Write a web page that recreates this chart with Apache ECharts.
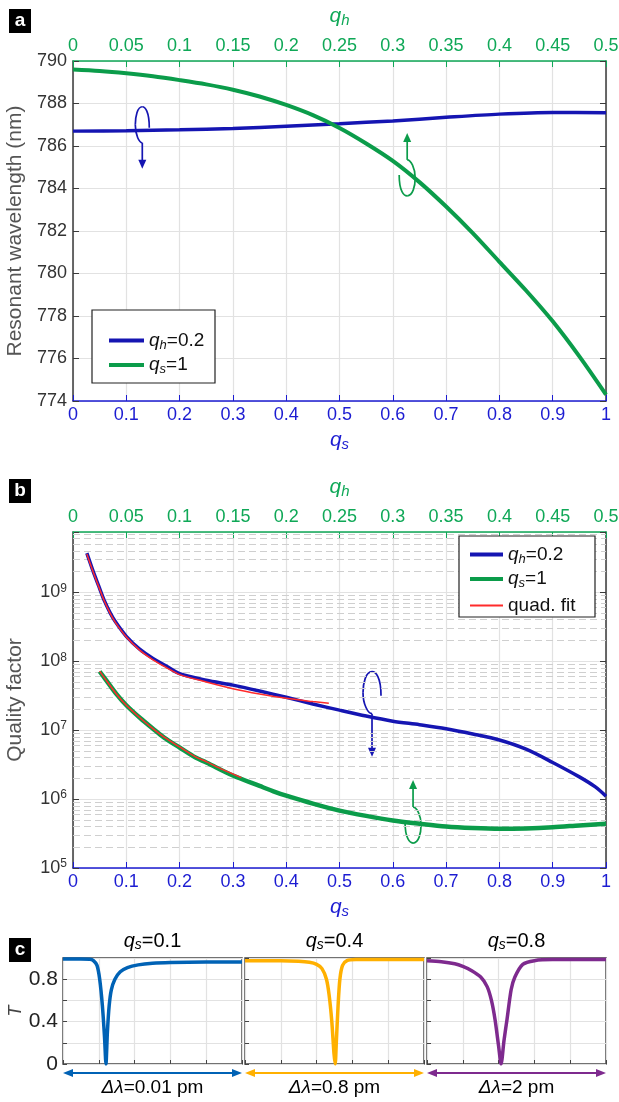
<!DOCTYPE html>
<html>
<head>
<meta charset="utf-8">
<script src="https://cdn.jsdelivr.net/npm/echarts@6.0.0/dist/echarts.min.js"></script>
<style>
  html, body { margin: 0; padding: 0; background: #fff; }
  #chart { width: 619px; height: 1102px; }
</style>
</head>
<body>
<div id="chart"></div>
<script>
// ---- panel a : resonant wavelength ----
const qsA = [0, 0.1, 0.2, 0.3, 0.4, 0.5, 0.6, 0.7, 0.8, 0.9, 1.0];
const lamBlueA = [786.70, 786.72, 786.76, 786.82, 786.93, 787.05, 787.18, 787.35, 787.50, 787.58, 787.56];
const qhA = [0, 0.025, 0.05, 0.075, 0.1, 0.125, 0.15, 0.175, 0.2, 0.225, 0.25, 0.275, 0.3, 0.325, 0.35, 0.375, 0.4, 0.425, 0.45, 0.475, 0.5];
const lamGreenA = [789.60, 789.53, 789.42, 789.28, 789.10, 788.90, 788.65, 788.33, 787.93, 787.45, 786.85, 786.12, 785.30, 784.30, 783.15, 781.90, 780.55, 779.20, 777.75, 776.10, 774.30];

// ---- panel b : quality factor ----
const qsB = [0.026, 0.037, 0.048, 0.059, 0.07, 0.08, 0.1, 0.125, 0.15, 0.175, 0.2, 0.25, 0.3, 0.35, 0.4, 0.45, 0.5, 0.55, 0.6, 0.65, 0.7, 0.75, 0.8, 0.85, 0.9, 0.95, 0.98, 1.0];
const qBlueB = [3.7e9, 2.1e9, 1.25e9, 7.5e8, 5.0e8, 3.7e8, 2.3e8, 1.5e8, 1.1e8, 8.5e7, 6.6e7, 5.3e7, 4.5e7, 3.7e7, 3.0e7, 2.4e7, 1.95e7, 1.6e7, 1.35e7, 1.2e7, 1.05e7, 8.8e6, 7.2e6, 5.3e6, 3.4e6, 2.1e6, 1.5e6, 1.1e6];
const qsFit = [0.026, 0.037, 0.048, 0.059, 0.07, 0.08, 0.1, 0.125, 0.15, 0.175, 0.2, 0.25, 0.3, 0.35, 0.4, 0.45, 0.48];
const qFitBlue = [3.6e9, 2.05e9, 1.22e9, 7.4e8, 4.9e8, 3.6e8, 2.25e8, 1.45e8, 1.05e8, 8.1e7, 6.4e7, 5.0e7, 4.0e7, 3.35e7, 2.9e7, 2.6e7, 2.45e7];
const qhB = [0.025, 0.03, 0.041, 0.05, 0.063, 0.075, 0.0855, 0.1, 0.115, 0.125, 0.15, 0.175, 0.19, 0.2, 0.225, 0.25, 0.275, 0.3, 0.325, 0.35, 0.375, 0.4, 0.425, 0.45, 0.475, 0.5];
const qGreenB = [7.1e7, 5.6e7, 3.3e7, 2.3e7, 1.5e7, 1.05e7, 7.8e6, 5.6e6, 4.0e6, 3.4e6, 2.2e6, 1.55e6, 1.26e6, 1.12e6, 8.6e5, 6.8e5, 5.7e5, 4.9e5, 4.4e5, 4.0e5, 3.8e5, 3.7e5, 3.75e5, 3.9e5, 4.15e5, 4.4e5];
const qhFit = [0.025, 0.03, 0.041, 0.05, 0.063, 0.075, 0.0855, 0.1, 0.115, 0.125, 0.14, 0.158];
const qFitGreen = [7.2e7, 5.6e7, 3.3e7, 2.3e7, 1.5e7, 1.05e7, 7.9e6, 5.7e6, 4.1e6, 3.5e6, 2.7e6, 2.05e6];

// ---- panel c : transmission spectra (arb. detuning 0..1) ----
const xC1 = [0, 0.1, 0.15, 0.17, 0.19, 0.205, 0.22, 0.232, 0.24, 0.248, 0.258, 0.27, 0.29, 0.32, 0.36, 0.42, 0.5, 0.6, 0.8, 1];
const tC1 = [0.99, 0.99, 0.988, 0.975, 0.93, 0.8, 0.55, 0.25, 0.0, 0.3, 0.55, 0.7, 0.8, 0.87, 0.91, 0.935, 0.95, 0.957, 0.962, 0.963];
const xC2 = [0, 0.2, 0.3, 0.36, 0.4, 0.43, 0.455, 0.47, 0.485, 0.497, 0.504, 0.51, 0.52, 0.53, 0.545, 0.57, 0.62, 0.8, 1];
const tC2 = [0.975, 0.975, 0.97, 0.96, 0.94, 0.9, 0.8, 0.65, 0.4, 0.1, 0.0, 0.2, 0.55, 0.8, 0.93, 0.975, 0.985, 0.987, 0.987];
const xC3 = [0, 0.08, 0.155, 0.2, 0.25, 0.3, 0.336, 0.36, 0.38, 0.4, 0.414, 0.43, 0.447, 0.47, 0.491, 0.535, 0.6, 0.7, 1];
const tC3 = [0.975, 0.965, 0.945, 0.92, 0.88, 0.82, 0.73, 0.6, 0.42, 0.17, 0.0, 0.22, 0.42, 0.7, 0.82, 0.94, 0.975, 0.985, 0.985];
const cTitles = ['0.1', '0.4', '0.8'];
const cWidths = ['0.01 pm', '0.8 pm', '2 pm'];

const FONT = '"Liberation Sans", Arial, Helvetica, sans-serif';
const BLUE = '#1515b2', GREEN = '#0b9c4a', RED = '#ff2b2b';
const AX_BLUE = '#1c1cd2', AX_GREEN = '#0fa857', AX_GRAY = '#3a3a3a';
const GRID = '#e2e2e2', MINOR = '#cfcfcf';
const C_COLORS = ['#0062b5', '#ffb000', '#7e2a8e'];

function pairs(xs, ys) { return xs.map((x, i) => [x, ys[i]]); }

function qRich(color, size) {
  return {
    q: { fontStyle: 'italic', fontSize: size, color: color, fontFamily: FONT },
    s: { fontStyle: 'italic', fontSize: Math.round(size * 0.7), color: color, fontFamily: FONT,
         verticalAlign: 'bottom', padding: [Math.round(size * 0.45), 0, 0, 0] },
    n: { fontSize: size, color: color, fontFamily: FONT }
  };
}

const legendText = {
  a_blue: '{q|q}{s|h}{n|=0.2}', a_green: '{q|q}{s|s}{n|=1}',
  b_blue: '{q|q}{s|h}{n|=0.2}', b_green: '{q|q}{s|s}{n|=1}',
  b_fit: '{n|quad. fit}'
};

function bottomAxis(grid) {
  return {
    type: 'value', gridIndex: grid, position: 'bottom', min: 0, max: 1, interval: 0.1,
    axisLine: { show: true, onZero: false, lineStyle: { color: AX_BLUE, width: 1.5 } },
    axisTick: { show: true, inside: true, length: 6, lineStyle: { color: AX_BLUE } },
    axisLabel: { color: AX_BLUE, fontSize: 18, fontFamily: FONT, margin: 5 },
    splitLine: { show: true, lineStyle: { color: GRID, width: 1.2 } },
    name: '{q|q}{s|s}', nameLocation: 'middle', nameGap: 27,
    nameTextStyle: { rich: qRich(AX_BLUE, 21) }
  };
}
function topAxis(grid) {
  return {
    type: 'value', gridIndex: grid, position: 'top', min: 0, max: 0.5, interval: 0.05,
    axisLine: { show: true, onZero: false, lineStyle: { color: AX_GREEN, width: 1.5 } },
    axisTick: { show: true, inside: true, length: 6, lineStyle: { color: AX_GREEN } },
    axisLabel: { color: AX_GREEN, fontSize: 18, fontFamily: FONT, margin: 6 },
    splitLine: { show: false },
    name: '{q|q}{s|h}', nameLocation: 'middle', nameGap: 33,
    nameTextStyle: { rich: qRich(AX_GREEN, 21) }
  };
}
function sideAxis(grid, pos, extra) {
  return Object.assign({
    gridIndex: grid, position: pos,
    axisLine: { show: true, onZero: false, lineStyle: { color: AX_GRAY, width: 1.5 } },
    axisTick: { show: true, inside: true, length: 6, lineStyle: { color: AX_GRAY } },
    axisLabel: { show: pos === 'left', color: '#333', fontSize: 18, fontFamily: FONT, margin: 6 },
    splitLine: { show: pos === 'left', lineStyle: { color: GRID, width: 1.2 } }
  }, extra);
}
function logLabel(v) {
  const e = Math.log10(v);
  if (Math.abs(e - Math.round(e)) > 1e-6) return '';
  return '{b|10}{e|' + Math.round(e) + '}';
}

// dashed minor grid for the log axis
const minorVals = [];
for (let d = 5; d <= 9; d++) for (let m = 2; m <= 9; m++) if (m * Math.pow(10, d) < 7.5e9) minorVals.push(m * Math.pow(10, d));

const cGrids = [63, 245, 427];
const xAxes = [bottomAxis(0), topAxis(0), bottomAxis(1), topAxis(1)];
const yAxes = [
  sideAxis(0, 'left', { type: 'value', min: 774, max: 790, interval: 2,
    name: 'Resonant wavelength (nm)', nameLocation: 'middle', nameGap: 47,
    nameTextStyle: { fontSize: 21, color: '#555', fontFamily: FONT } }),
  sideAxis(0, 'right', { type: 'value', min: 774, max: 790, interval: 2 }),
  sideAxis(1, 'left', { type: 'log', logBase: 10, min: 1e5, max: 7.5e9,
    name: 'Quality factor', nameLocation: 'middle', nameGap: 47,
    nameTextStyle: { fontSize: 21, color: '#555', fontFamily: FONT },
    axisLabel: { show: true, formatter: logLabel, margin: 6,
      rich: { b: { fontSize: 18, color: '#333', fontFamily: FONT, lineHeight: 20 },
              e: { fontSize: 12, color: '#333', fontFamily: FONT, verticalAlign: 'top', lineHeight: 12, padding: [0, 0, 10, 0] } } } }),
  sideAxis(1, 'right', { type: 'log', logBase: 10, min: 1e5, max: 7.5e9 })
];
cGrids.forEach((l, i) => {
  xAxes.push({
    type: 'value', gridIndex: 2 + i, min: 0, max: 1, interval: 0.2,
    axisLine: { show: false }, axisLabel: { show: false },
    axisTick: { show: true, inside: true, length: 4, lineStyle: { color: '#444' } },
    splitLine: { show: true, lineStyle: { color: GRID, width: 1.2 } }
  });
  yAxes.push({
    type: 'value', gridIndex: 2 + i, min: 0, max: 1, interval: 0.2,
    axisLine: { show: false },
    axisTick: { show: true, inside: true, length: 4, lineStyle: { color: '#444' } },
    axisLabel: { show: i === 0, color: '#222', fontSize: 21, fontFamily: FONT, margin: 5,
      formatter: v => [0, 0.4, 0.8].some(t => Math.abs(v - t) < 1e-6) ? String(Math.round(v * 10) / 10) : '' },
    splitLine: { show: true, lineStyle: { color: GRID, width: 1.2 } },
    name: i === 0 ? '{q|T}' : '', nameLocation: 'middle', nameGap: 27,
    nameTextStyle: { rich: { q: { fontStyle: 'italic', fontSize: 18, color: '#444', fontFamily: FONT } } }
  });
});

function line(name, xi, yi, data, color, width, z) {
  return { name: name, type: 'line', xAxisIndex: xi, yAxisIndex: yi, data: data,
    showSymbol: false, smooth: 0.3, z: z || 2, color: color,
    itemStyle: { color: color }, lineStyle: { color: color, width: width } };
}

const series = [
  line('a_blue', 0, 0, pairs(qsA, lamBlueA), BLUE, 3.5),
  line('a_green', 1, 0, pairs(qhA, lamGreenA), GREEN, 4),
  line('b_blue', 2, 2, pairs(qsB, qBlueB), BLUE, 3.5),
  line('b_green', 3, 2, pairs(qhB, qGreenB), GREEN, 4.5),
  line('b_fit', 2, 2, pairs(qsFit, qFitBlue), RED, 1.5, 3),
  line('b_fit', 3, 2, pairs(qhFit, qFitGreen), RED, 1.5, 3),
  { name: 'minor', type: 'line', xAxisIndex: 2, yAxisIndex: 2, data: [], z: 1, silent: true,
    markLine: { silent: true, z: 1, symbol: ['none', 'none'], label: { show: false },
      lineStyle: { color: MINOR, type: [7, 4], width: 1 },
      data: minorVals.map(v => ({ yAxis: v })) } }
];
[[xC1, tC1], [xC2, tC2], [xC3, tC3]].forEach((d, i) => {
  const s = line('c' + i, 4 + i, 4 + i, pairs(d[0], d[1]), C_COLORS[i], 3.5);
  s.smooth = 0.25;
  series.push(s);
});

const chart = echarts.init(document.getElementById('chart'));
chart.setOption({
  backgroundColor: '#fff',
  animation: false,
  textStyle: { fontFamily: FONT },
  grid: [
    { left: 73, top: 61, width: 533, height: 340, outerBoundsMode: 'none' },
    { left: 73, top: 532, width: 533, height: 336, outerBoundsMode: 'none' }
  ].concat(cGrids.map(l => ({ left: l, top: 958, width: 179, height: 106, show: true,
    borderColor: '#444', borderWidth: 1.5, outerBoundsMode: 'none' }))),
  legend: [
    { orient: 'vertical', left: 104, top: 326, itemWidth: 35, itemHeight: 4, itemGap: 4, z: 6,
      icon: 'rect', data: ['a_blue', 'a_green'], selectedMode: false,
      formatter: n => legendText[n], textStyle: { rich: qRich('#111', 19) } },
    { orient: 'vertical', left: 465, top: 540, itemWidth: 33, itemHeight: 4, itemGap: 4, z: 6,
      icon: 'rect', data: ['b_blue', 'b_green'], selectedMode: false,
      formatter: n => legendText[n], textStyle: { rich: qRich('#111', 19) } },
    { orient: 'vertical', left: 465, top: 591, itemWidth: 33, itemHeight: 2, z: 6,
      icon: 'rect', data: ['b_fit'], selectedMode: false,
      formatter: n => legendText[n], textStyle: { rich: qRich('#111', 19) } }
  ],
  xAxis: xAxes,
  yAxis: yAxes,
  series: series
});

// annotations: curly arrows, panel badges, panel c titles and span arrows
function curl(pt, rx, ry, L, up, color) {
  const seg = (a, b, c1, c2) => ({ type: 'bezierCurve',
    shape: { x1: a[0], y1: a[1], x2: b[0], y2: b[1], cpx1: c1[0], cpy1: c1[1], cpx2: c2[0], cpy2: c2[1] },
    style: { stroke: color, fill: null, lineWidth: 1.7 } });
  return { type: 'group', x: pt[0], y: pt[1], rotation: up ? Math.PI : 0, z: 20, children: [
    seg([rx, 3], [0, -ry], [rx, -ry * 0.75], [rx * 0.4, -ry]),
    seg([0, -ry], [-rx, 0], [-rx * 0.7, -ry], [-rx, -ry * 0.45]),
    seg([-rx, 0], [0, ry], [-rx, ry * 0.55], [-rx * 0.45, ry]),
    { type: 'line', shape: { x1: 0, y1: ry, x2: 0, y2: ry + L - 6 }, style: { stroke: color, lineWidth: 1.7 } },
    { type: 'polygon', shape: { points: [[-4, ry + L - 9], [4, ry + L - 9], [0, ry + L]] }, style: { fill: color } }
  ] };
}
function badge(letter, y) {
  return { type: 'group', x: 9, y: y, z: 30, children: [
    { type: 'rect', shape: { x: 0, y: 0, width: 22, height: 24 }, style: { fill: '#000' } },
    { type: 'text', x: 11, y: 12, style: { text: letter, fill: '#fff', font: 'bold 19px ' + FONT,
      align: 'center', verticalAlign: 'middle' } }
  ] };
}
const px = (idx, p) => chart.convertToPixel({ xAxisIndex: idx[0], yAxisIndex: idx[1] }, p);

const graphics = [
  { type: 'rect', z: 3, shape: { x: 92, y: 310, width: 123, height: 73 }, style: { fill: '#fff', stroke: '#222', lineWidth: 1.2 } },
  { type: 'rect', z: 3, shape: { x: 459, y: 536, width: 136, height: 81 }, style: { fill: '#fff', stroke: '#222', lineWidth: 1.2 } },
  badge('a', 9), badge('b', 479), badge('c', 938),
  curl(px([0, 0], [0.13, 787.0]), 7, 18, 26, false, BLUE),
  curl(px([0, 0], [0.627, 784.5]), 8, 18, 27, true, GREEN),
  curl(px([2, 2], [0.561, 3.5e7]), 9, 21, 43, false, BLUE),
  curl(px([2, 2], [0.638, 4.2e5]), 8, 18, 27, true, GREEN)
];
cGrids.forEach((l, i) => {
  const col = C_COLORS[i], cx = l + 89.5, y = 1073;
  graphics.push({ type: 'text', x: cx, y: 941, z: 10, style: {
    text: '{q|q}{s|s}{n|=' + cTitles[i] + '}', rich: qRich(col, 20), align: 'center', verticalAlign: 'middle' } });
  graphics.push({ type: 'line', z: 10, shape: { x1: l + 6, y1: y, x2: l + 173, y2: y }, style: { stroke: col, lineWidth: 1.8 } });
  graphics.push({ type: 'polygon', z: 10, shape: { points: [[l, y], [l + 10, y - 4], [l + 10, y + 4]] }, style: { fill: col } });
  graphics.push({ type: 'polygon', z: 10, shape: { points: [[l + 179, y], [l + 169, y - 4], [l + 169, y + 4]] }, style: { fill: col } });
  graphics.push({ type: 'text', x: cx, y: 1088, z: 10, style: {
    text: '{d|Δλ}{n|=' + cWidths[i] + '}', align: 'center', verticalAlign: 'middle',
    rich: { d: { fontStyle: 'italic', fontSize: 19, color: col, fontFamily: FONT },
            n: { fontSize: 19, color: col, fontFamily: FONT } } } });
});
chart.setOption({ graphic: graphics });
</script>
</body>
</html>
